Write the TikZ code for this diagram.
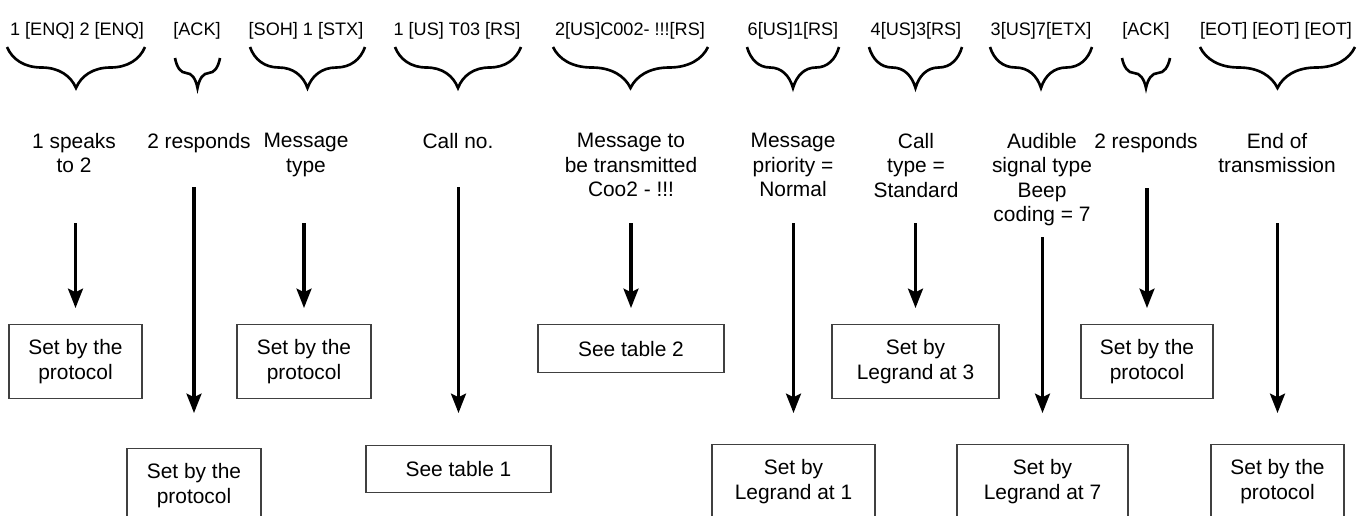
\documentclass[tikz,border=0pt]{standalone}
\usepackage{fontspec}
\setmainfont{Liberation Sans}
\usetikzlibrary{arrows.meta,decorations.pathreplacing}

\begin{document}
\begin{tikzpicture}[x=0.02cm, y=-0.02cm,
        code/.style={anchor=base,inner sep=0pt,font=\fontsize{10.3}{12}\selectfont},
        lbl/.style={anchor=north,inner sep=0pt,align=center,font=\fontsize{11.9}{13.9}\selectfont},
        box/.style={rectangle,draw=black!75,line width=0.6pt,anchor=north,align=center,
          inner sep=0pt,minimum height=1.48cm,font=\fontsize{11.9}{13.9}\selectfont},
        brc/.style={decorate,decoration={brace,mirror,amplitude=#1},line width=1.5pt},
        arrow/.style={-{Stealth[length=11pt,width=8.5pt,inset=2pt]},line width=1.8pt}]
        \useasboundingbox (0,0) rectangle (1357,515);
        % transmitted characters
        \node[code] (t1) at (77,35) {1 [ENQ] 2 [ENQ]};
        \node[code] (t2) at (197,35) {[ACK]};
        \node[code] (t3) at (306,35) {[SOH] 1 [STX]};
        \node[code] (t4) at (457,35) {1 [US] T03 [RS]};
        \node[code] (t5) at (630,35) {2[US]C002- !!![RS]};
        \node[code] (t6) at (793,35) {6[US]1[RS]};
        \node[code] (t7) at (916,35) {4[US]3[RS]};
        \node[code] (t8) at (1041,35) {3[US]7[ETX]};
        \node[code] (t9) at (1146,35) {[ACK]};
        \node[code] (t10) at (1276,35) {[EOT] [EOT] [EOT]};
        % braces
        \draw[brc=0.82cm] (7,47) -- (145,47);
        \draw[brc=0.6cm] (175,58) -- (220,58);
        \draw[brc=0.82cm] (250,47) -- (365,47);
        \draw[brc=0.82cm] (395,47) -- (521,47);
        \draw[brc=0.82cm] (553,47) -- (708,47);
        \draw[brc=0.82cm] (747,47) -- (839,47);
        \draw[brc=0.82cm] (869,47) -- (962,47);
        \draw[brc=0.82cm] (990,47) -- (1092,47);
        \draw[brc=0.6cm] (1122,58) -- (1170,58);
        \draw[brc=0.82cm] (1200,47) -- (1355,47);
        % meanings
        \node[lbl] (m1) at (74,133) {1 speaks\\to 2};
        \node[lbl] (m2) at (199,133) {2 responds};
        \node[lbl] (m3) at (306,133) {Message\\type};
        \node[lbl] (m4) at (458,133) {Call no.};
        \node[lbl] (m5) at (631,133) {Message to\\be transmitted\\Coo2 - !!!};
        \node[lbl] (m6) at (793,133) {Message\\priority =\\Normal};
        \node[lbl] (m7) at (916,133) {Call\\type =\\Standard};
        \node[lbl] (m8) at (1042,133) {Audible\\signal type\\Beep\\coding = 7};
        \node[lbl] (m9) at (1146,133) {2 responds};
        \node[lbl] (m10) at (1277,133) {End of\\transmission};
        % settings
        \node[box,minimum width=2.66cm] (b1) at (75.5,324) {Set by the\\protocol};
        \node[box,minimum width=2.68cm] (b2) at (194,448) {Set by the\\protocol};
        \node[box,minimum width=2.68cm] (b3) at (304,324) {Set by the\\protocol};
        \node[box,minimum width=3.7cm,minimum height=0.94cm] (b4) at (458.5,445) {See table 1};
        \node[box,minimum width=3.72cm,minimum height=0.96cm] (b5) at (631,324) {See table 2};
        \node[box,minimum width=3.26cm] (b6) at (793.5,444) {Set by\\Legrand at 1};
        \node[box,minimum width=3.34cm] (b7) at (915.5,324) {Set by\\Legrand at 3};
        \node[box,minimum width=3.42cm] (b8) at (1042.5,444) {Set by\\Legrand at 7};
        \node[box,minimum width=2.64cm] (b9) at (1147,324) {Set by the\\protocol};
        \node[box,minimum width=2.66cm] (b10) at (1277.5,444) {Set by the\\protocol};
        % arrow starts
        \coordinate (s1) at (75.5,223);
        \coordinate (s2) at (194,187);
        \coordinate (s3) at (304,223);
        \coordinate (s4) at (458.5,187);
        \coordinate (s5) at (631,223);
        \coordinate (s6) at (793.5,223);
        \coordinate (s7) at (915.5,223);
        \coordinate (s8) at (1042.5,237);
        \coordinate (s9) at (1147,188);
        \coordinate (s10) at (1277.5,223);
        \draw[arrow,shorten >=0.32cm] (s1) -- (b1);
        \draw[arrow,shorten >=0.7cm] (s2) -- (b2);
        \draw[arrow,shorten >=0.32cm] (s3) -- (b3);
        \draw[arrow,shorten >=0.64cm] (s4) -- (b4);
        \draw[arrow,shorten >=0.32cm] (s5) -- (b5);
        \draw[arrow,shorten >=0.62cm] (s6) -- (b6);
        \draw[arrow,shorten >=0.32cm] (s7) -- (b7);
        \draw[arrow,shorten >=0.62cm] (s8) -- (b8);
        \draw[arrow,shorten >=0.32cm] (s9) -- (b9);
        \draw[arrow,shorten >=0.62cm] (s10) -- (b10);
      \end{tikzpicture}
\end{document}
